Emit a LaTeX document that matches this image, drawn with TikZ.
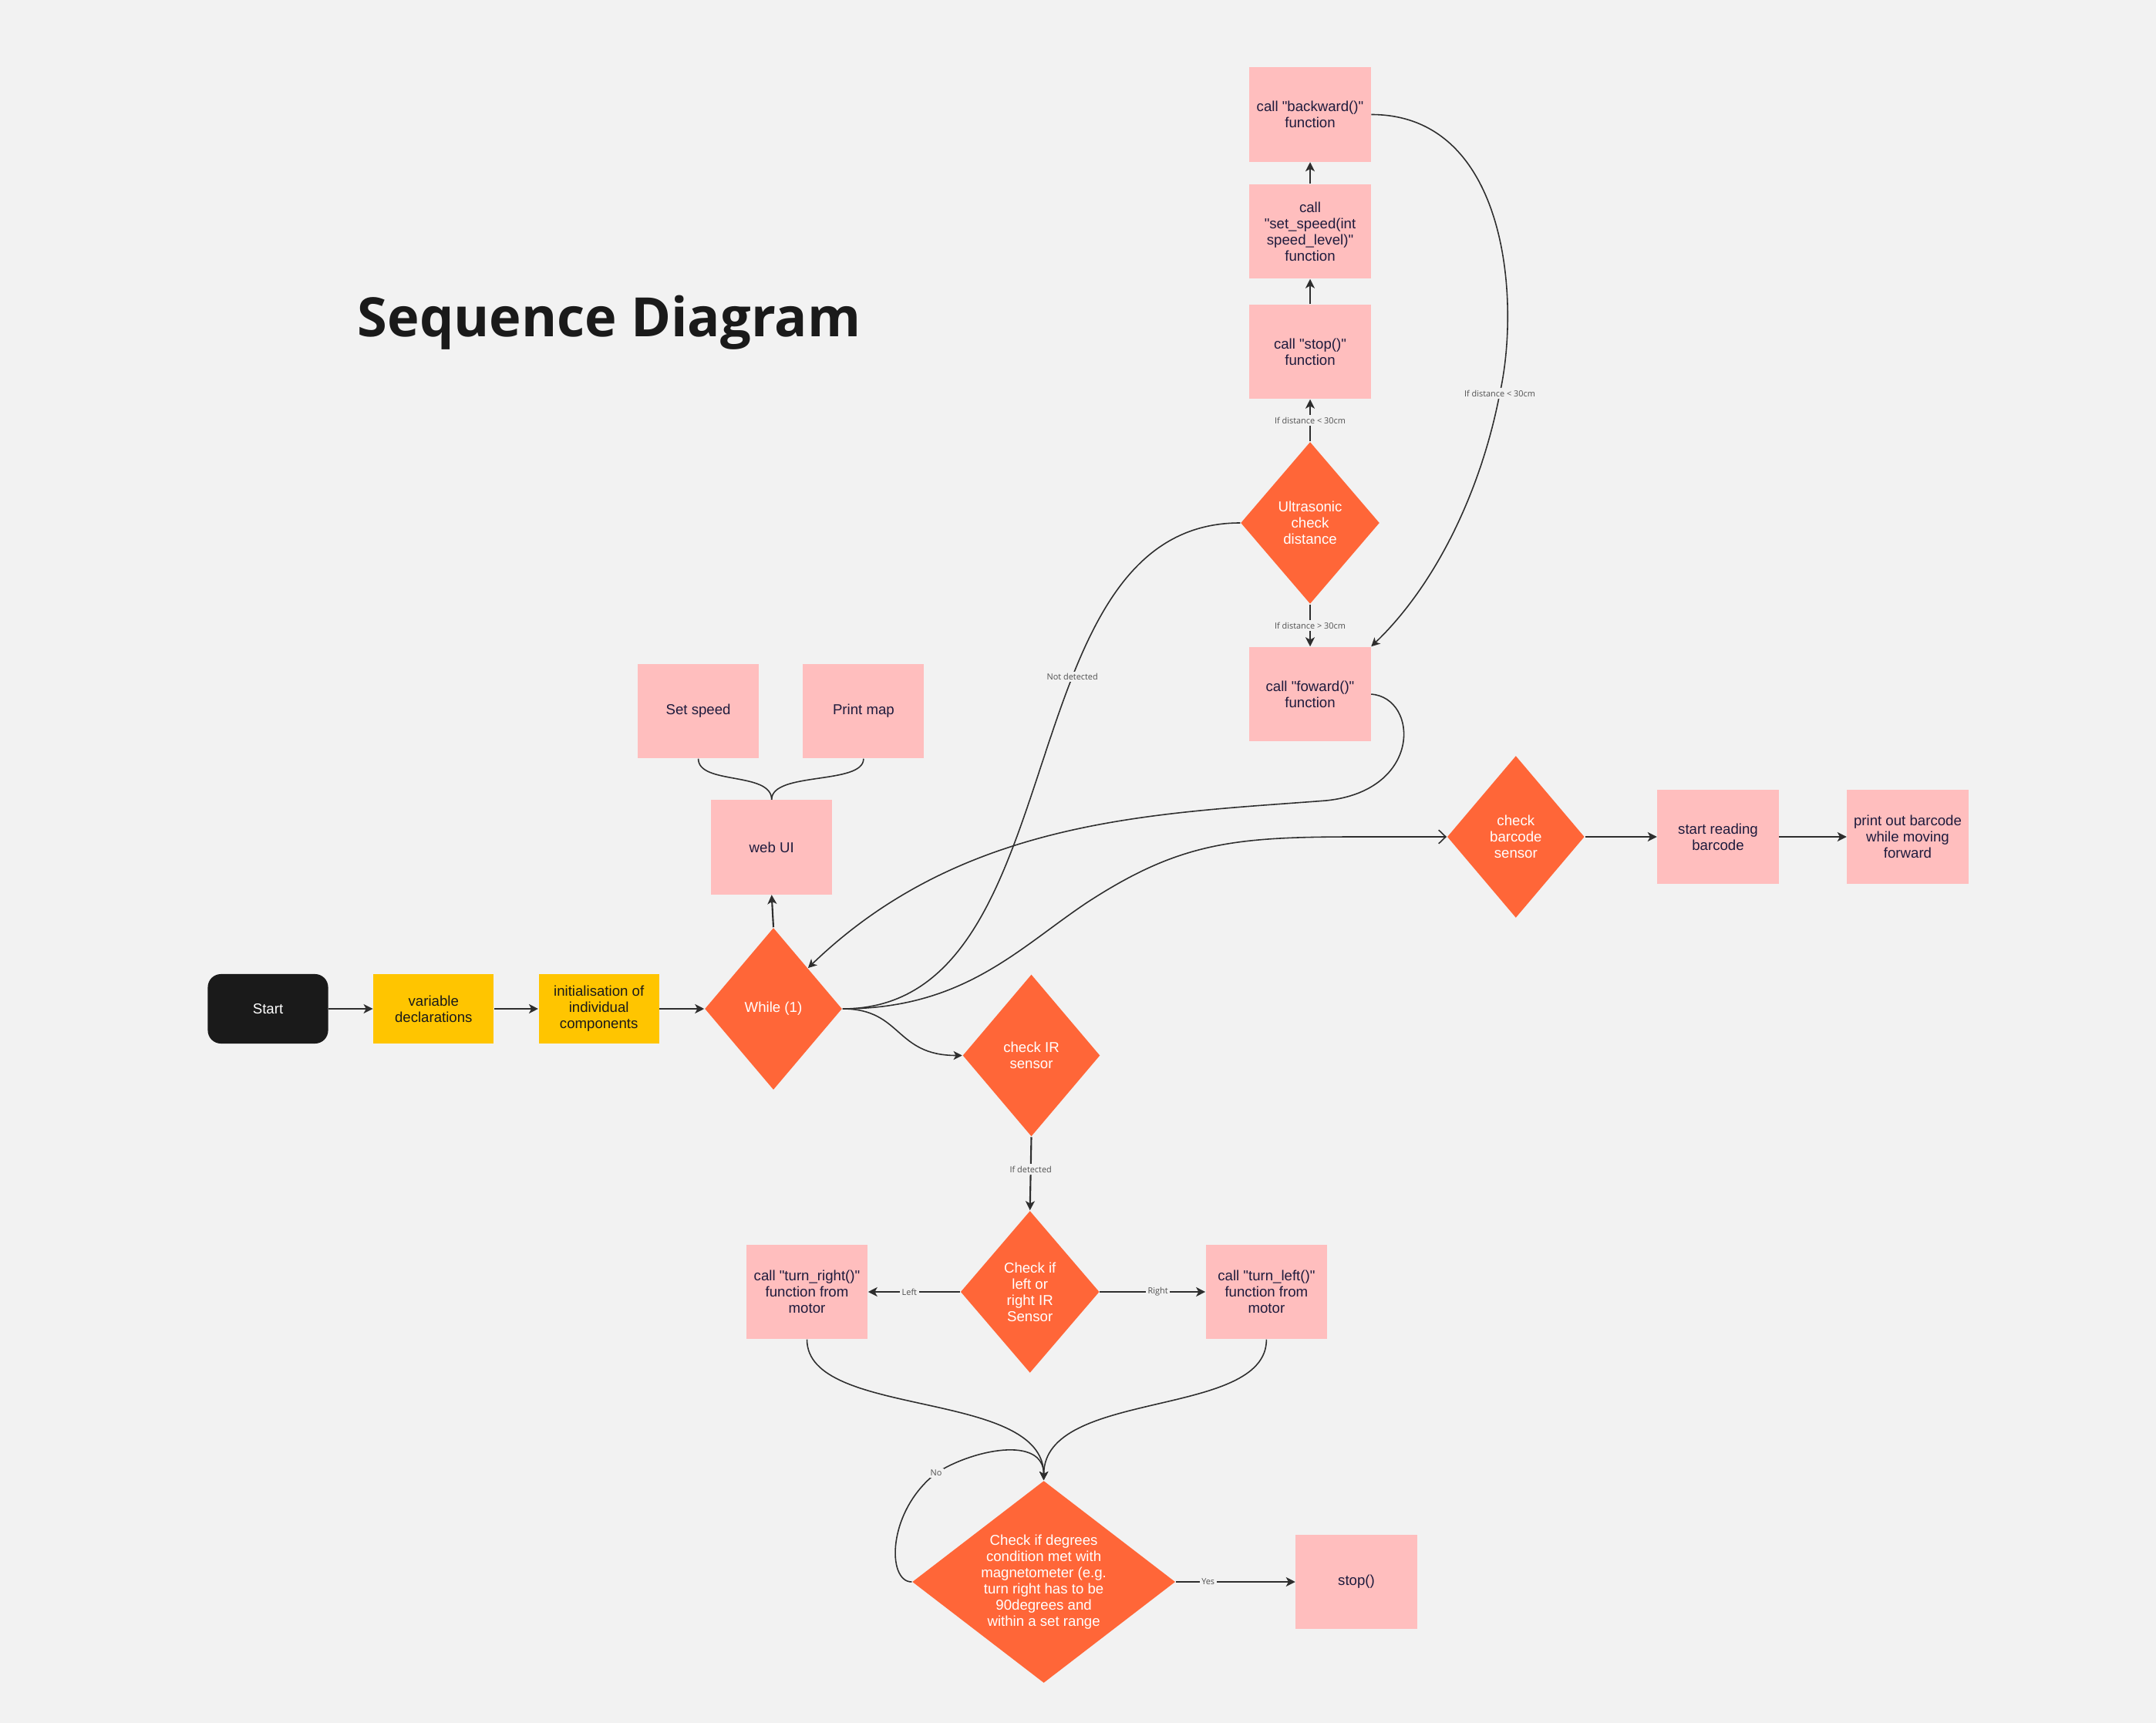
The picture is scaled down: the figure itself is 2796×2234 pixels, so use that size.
\documentclass[tikz,border=0pt]{standalone}
\usepackage{fontspec}
\usetikzlibrary{shapes.geometric,arrows.meta}
\newfontfamily\bodyfont{Liberation Sans}
\newfontfamily\osans{Open Sans}
\definecolor{bg}{HTML}{F2F2F2}
\definecolor{pinkc}{HTML}{FFBEBE}
\definecolor{orangec}{HTML}{FF6638}
\definecolor{yellowc}{HTML}{FFC500}
\definecolor{darkc}{HTML}{1A1A1A}
\definecolor{linec}{HTML}{2E2E2E}
\definecolor{navyc}{HTML}{1E1B3D}
\definecolor{lblc}{HTML}{505050}
\tikzset{
  pbox/.style={rectangle, fill=pinkc, minimum width=1.57cm, minimum height=1.22cm, inner sep=0pt,
    text=navyc, font=\bodyfont\fontsize{5.3pt}{5.95pt}\selectfont, align=center},
  ybox/.style={rectangle, fill=yellowc, minimum width=1.56cm, minimum height=0.9cm, inner sep=0pt,
    text=darkc, font=\bodyfont\fontsize{5.3pt}{5.95pt}\selectfont, align=center},
  startbox/.style={rectangle, rounded corners=0.17cm, fill=darkc, minimum width=1.56cm, minimum height=0.9cm,
    inner sep=0pt, text=white, font=\bodyfont\fontsize{5.3pt}{5.95pt}\selectfont, align=center},
  dia/.style={diamond, fill=orangec, inner sep=0pt, minimum width=1.78cm, minimum height=2.1cm},
  dtxt/.style={text=white, font=\bodyfont\fontsize{5.3pt}{5.95pt}\selectfont, align=center, inner sep=0pt},
  lbl/.style={font=\osans\fontsize{3.1pt}{3.7pt}\selectfont, text=lblc, fill=bg, inner sep=0.7pt},
  arr/.style={draw=linec, line width=0.6pt, -{Stealth[length=3.4pt,width=3.4pt,inset=0.9pt]}},
  carr/.style={draw=linec, line width=0.45pt, -{Stealth[length=3.2pt,width=3.2pt,inset=0.9pt]}},
  cline/.style={draw=linec, line width=0.45pt},
}
\begin{document}
\begin{tikzpicture}[x=0.01cm,y=-0.01cm]
\useasboundingbox (0,0) rectangle (2796,2234);
\fill[bg] (0,0) rectangle (2796,2234);

% title
\node[anchor=base, inner sep=0pt, text=darkc, font=\osans\bfseries\fontsize{20pt}{24pt}\selectfont] (title) at (790,437) {Sequence Diagram};

% main row
\node[startbox] (S) at (347.5,1308) {Start};
\node[ybox] (V) at (562.3,1308) {variable\\declarations};
\node[ybox] (I) at (776.7,1308) {initialisation of\\individual\\components};
\node[dia, label={[dtxt]center:While (1)}] (W) at (1003,1308) {};

% web UI
\node[pbox] (WU) at (1000.7,1098.5) {web UI};
\node[pbox] (SS) at (905.6,922) {Set speed};
\node[pbox] (PM) at (1119.9,922) {Print map};

% IR branch
\node[dia, label={[dtxt]center:check IR\\sensor}] (IR) at (1337.5,1368.5) {};
\node[dia, minimum width=1.8cm, label={[dtxt]center:Check if\\left or\\right IR\\Sensor}] (LR) at (1335.7,1675) {};
\node[pbox] (TR) at (1046.5,1675) {call "turn\_right()"\\function from\\motor};
\node[pbox] (TL) at (1642.4,1675) {call "turn\_left()"\\function from\\motor};
\node[dia, minimum width=3.41cm, minimum height=2.62cm,
  label={[dtxt]center:Check if degrees\\condition met with\\magnetometer (e.g.\\turn right has to be\\90degrees and\\within a set range}] (D) at (1353.6,2051) {};
\node[pbox] (ST) at (1759,2051) {stop()};

% barcode branch
\node[dia, label={[dtxt]center:check\\barcode\\sensor}] (BC) at (1965.8,1085) {};
\node[pbox] (SR) at (2228,1085) {start reading\\barcode};
\node[pbox] (PO) at (2474,1085) {print out barcode\\while moving\\forward};

% ultrasonic branch
\node[dia, minimum width=1.8cm, label={[dtxt]center:Ultrasonic\\check\\distance}] (U) at (1699,678) {};
\node[pbox] (SP) at (1699,456) {call "stop()"\\function};
\node[pbox] (SSP) at (1699,300) {call\\"set\_speed(int\\speed\_level)"\\function};
\node[pbox] (BK) at (1699,148.5) {call "backward()"\\function};
\node[pbox] (FW) at (1699,900) {call "foward()"\\function};

% straight connectors
\draw[arr] (S) -- (V);
\draw[arr] (V) -- (I);
\draw[arr] (I) -- (W);
\draw[arr] (W.north) -- (WU.south);
\draw[arr] (BC) -- (SR);
\draw[arr] (SR) -- (PO);
\draw[arr] (U.north) -- node[lbl, pos=0.5] {If distance < 30cm} (SP.south);
\draw[arr] (SP) -- (SSP);
\draw[arr] (SSP) -- (BK);
\draw[arr] (U.south) -- node[lbl, pos=0.5] {If distance > 30cm} (FW.north);
\draw[arr] (IR.south) -- node[lbl, pos=0.44] {If detected} (LR.north);
\draw[arr] (LR.west) -- node[lbl, pos=0.55] {Left} (TR.east);
\draw[arr] (LR.east) -- node[lbl, pos=0.55] {Right} (TL.west);
\draw[arr] (D.east) -- node[lbl, pos=0.27] {Yes} (ST.west);

% web UI links
\draw[cline] (WU.north) .. controls (1000.7,1000) and (905.6,1018) .. (SS.south);
\draw[cline] (WU.north) .. controls (1000.7,1000) and (1119.9,1018) .. (PM.south);

% curves from While
\draw[carr] (W.east) .. controls (1170,1308) and (1160,1368.5) .. (IR.west);
\draw[draw=linec, line width=0.45pt, -{Straight Barb[length=2.6pt,width=5pt]}]
  (W.east) .. controls (1250,1308) and (1320,1230) .. (1410,1170)
  .. controls (1530,1092) and (1600,1085) .. (1760,1085) -- (BC.west);
\draw[cline] (W.east) .. controls (1400,1308) and (1300,678) .. node[lbl, pos=0.625] {Not detected} (U.west);

% foward back to While
\draw[carr] (FW.east) .. controls (1840,905) and (1845,1025) .. (1720,1038)
  .. controls (1500,1055) and (1250,1060) .. (W.north east);

% backward to foward
\draw[carr] (BK.east) .. controls (1955,148.5) and (1972,390) .. (1945,510) node[lbl] {If distance < 30cm}
  .. controls (1920,640) and (1860,760) .. (FW.north east);

% turn to degrees
\draw[carr] (TR.south) .. controls (1046.5,1840) and (1353.6,1800) .. (D.north);
\draw[carr] (TL.south) .. controls (1642.4,1840) and (1353.6,1800) .. (D.north);
\draw[carr] (D.west) .. controls (1150,2051) and (1150,1960) .. (1214,1910) node[lbl] {No}
  .. controls (1260,1880) and (1353.6,1860) .. (D.north);
\end{tikzpicture}
\end{document}
